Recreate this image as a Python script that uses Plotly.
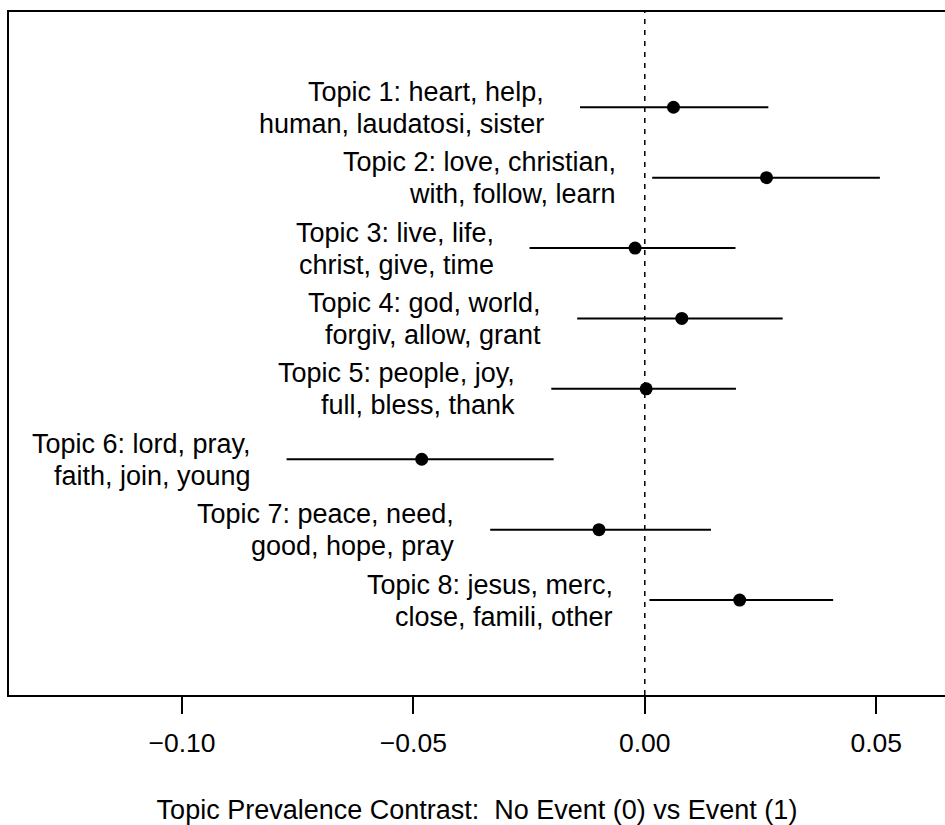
import plotly.graph_objects as go

# Data
topic_line1 = ["Topic 1: heart, help,", "Topic 2: love, christian,", "Topic 3: live, life,",
               "Topic 4: god, world,", "Topic 5: people, joy,", "Topic 6: lord, pray,",
               "Topic 7: peace, need,", "Topic 8: jesus, merc,"]
topic_line2 = ["human, laudatosi, sister", "with, follow, learn", "christ, give, time",
               "forgiv, allow, grant", "full, bless, thank", "faith, join, young",
               "good, hope, pray", "close, famili, other"]
means = [0.0062, 0.0263, -0.0021, 0.0080, 0.0003, -0.0482, -0.0099, 0.0205]
lower = [-0.0140, 0.0016, -0.0249, -0.0146, -0.0202, -0.0774, -0.0334, 0.0010]
upper = [0.0267, 0.0508, 0.0196, 0.0298, 0.0197, -0.0197, 0.0143, 0.0407]
positions = [8, 7, 6, 5, 4, 3, 2, 1]
tick_vals = [-0.10, -0.05, 0.00, 0.05]
tick_text = ["\u22120.10", "\u22120.05", "0.00", "0.05"]
x_title = "Topic Prevalence Contrast:  No Event (0) vs Event (1)"

FONT = "Liberation Sans, Arial, Helvetica, sans-serif"

fig = go.Figure()
fig.add_trace(go.Scatter(
    x=means, y=positions, mode="markers",
    marker=dict(color="black", size=13),
    error_x=dict(type="data", symmetric=False,
                 array=[u - m for u, m in zip(upper, means)],
                 arrayminus=[m - l for m, l in zip(means, lower)],
                 width=0, thickness=2, color="black"),
    showlegend=False, hoverinfo="skip",
))

for l1, l2, lo, p in zip(topic_line1, topic_line2, lower, positions):
    fig.add_annotation(x=lo, y=p, text=l1, showarrow=False, xanchor="right", yanchor="middle",
                       xshift=-34, yshift=15.5, font=dict(family=FONT, size=27, color="black"))
    fig.add_annotation(x=lo, y=p, text=l2, showarrow=False, xanchor="right", yanchor="middle",
                       xshift=-34, yshift=-16.5, font=dict(family=FONT, size=27, color="black"))

fig.add_shape(type="line", xref="x", yref="paper", x0=0, x1=0, y0=0, y1=1,
              line=dict(color="black", width=1.5, dash="5px,6px"))

fig.update_layout(
    width=945, height=825,
    margin=dict(l=9, r=0, t=12, b=130),
    paper_bgcolor="white", plot_bgcolor="white",
    font=dict(family=FONT, size=27, color="black"),
    xaxis=dict(range=[-0.13738, 0.06487], showgrid=False, zeroline=False,
               showline=True, mirror=True, linecolor="black", linewidth=2,
               ticks="outside", ticklen=17, tickwidth=1.5, tickcolor="black",
               tickvals=tick_vals, ticktext=tick_text, ticklabelstandoff=6,
               tickfont=dict(family=FONT, size=26.5, color="black"),
               title=dict(text=x_title, font=dict(family=FONT, size=27, color="black"), standoff=43)),
    yaxis=dict(range=[-0.349, 9.353], showgrid=False, zeroline=False,
               showline=True, mirror=False, linecolor="black", linewidth=2,
               showticklabels=False, ticks=""),
)

fig.write_html("out.html")
